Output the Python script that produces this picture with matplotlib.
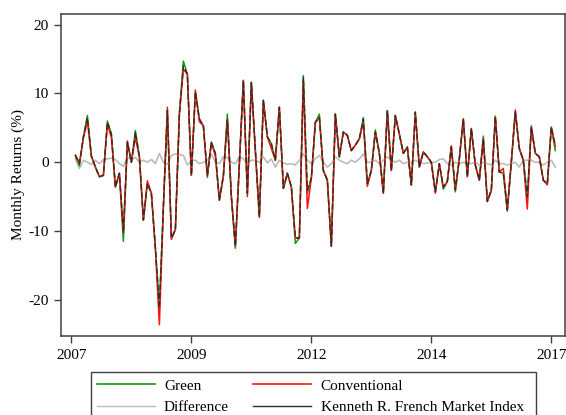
import matplotlib
matplotlib.use("Agg")
import matplotlib.pyplot as plt
from matplotlib.lines import Line2D
from matplotlib.patches import Rectangle
import numpy as np

plt.rcParams['font.family'] = ['Liberation Serif', 'DejaVu Serif']

# month index (0 = 2007m1); data run 2007m2 .. 2017m2
month = list(range(1, 122))

market = [1.0, -0.2, 3.7, 6.5, 0.9, -0.7, -2.1, -1.9, 5.8, 4.1,
          -3.6, -1.6, -10.3, 2.9, 0.0, 4.4, 0.8, -8.4, -3.1, -4.5,
          -12.5, -21.2, -6.5, 7.5, -11.0, -9.8, 7.0, 14.0, 12.8, -1.9,
          10.2, 6.3, 5.3, -1.9, 2.9, 1.3, -5.5, -2.0, 6.1, -5.0,
          -12.2, -0.2, 11.9, -4.5, 11.6, 1.7, -7.9, 9.0, 3.7, 2.7,
          0.3, 8.0, -3.8, -1.6, -3.6, -11.0, -11.0, 12.3, -4.0, -2.3,
          5.8, 6.5, -1.2, -2.6, -12.2, 7.0, 0.8, 4.4, 3.9, 1.7,
          2.5, 3.4, 6.3, -3.1, -1.2, 4.4, 1.3, -4.5, 7.5, -1.2,
          6.8, 4.1, 1.3, 2.2, -3.3, 7.3, -0.7, 1.5, 0.8, 0.0,
          -4.3, -0.2, -3.6, -2.8, 2.2, -4.0, 0.5, 6.3, -2.1, 4.9,
          -0.4, -2.6, 3.4, -5.7, -4.0, 6.6, -1.4, -1.6, -6.9, 0.0,
          7.3, 2.0, 0.3, -5.0, 5.1, 1.3, 0.8, -2.6, -3.1, 5.1,
          2.5]

green = [1.0, -0.5, 3.7, 6.8, 0.9, -0.7, -2.1, -1.9, 6.0, 4.1,
         -3.6, -1.6, -11.5, 2.9, 0.0, 4.6, 0.8, -8.4, -3.1, -4.5,
         -12.5, -20.8, -6.5, 7.5, -11.0, -9.8, 7.0, 14.7, 12.8, -1.9,
         10.2, 6.3, 5.3, -2.2, 2.9, 1.3, -5.5, -2.0, 7.0, -5.0,
         -12.5, -0.2, 11.9, -4.5, 11.6, 1.7, -7.9, 9.0, 3.7, 2.7,
         0.3, 8.0, -3.8, -1.6, -3.6, -11.8, -11.0, 12.6, -4.5, -2.3,
         5.8, 7.0, -1.2, -2.6, -12.2, 7.0, 0.8, 4.4, 3.9, 1.7,
         2.5, 3.4, 6.5, -3.1, -1.2, 4.7, 1.3, -4.5, 7.5, -1.2,
         6.8, 4.1, 1.3, 2.2, -3.3, 7.3, -0.7, 1.5, 0.8, 0.0,
         -4.3, -0.2, -3.9, -2.8, 2.2, -4.3, 0.5, 6.3, -2.1, 4.9,
         -0.4, -2.6, 3.8, -5.7, -4.0, 6.7, -1.4, -1.6, -7.1, 0.0,
         7.3, 2.0, 0.3, -5.2, 5.3, 1.3, 0.8, -2.6, -3.1, 5.1,
         1.7]

conventional = [1.0, -0.1, 3.5, 6.0, 0.9, -0.7, -2.1, -1.9, 5.5, 3.6,
                -3.6, -1.6, -10.0, 3.1, 0.0, 3.6, 0.8, -8.4, -2.7, -4.5,
                -12.5, -23.6, -6.5, 8.0, -11.2, -9.8, 7.0, 13.5, 12.8, -1.9,
                10.5, 5.9, 5.3, -1.9, 2.9, 0.9, -5.5, -2.0, 6.3, -5.0,
                -12.2, -0.2, 11.9, -5.0, 11.6, 1.7, -8.0, 9.0, 3.7, 2.0,
                0.3, 8.0, -3.8, -1.6, -3.6, -11.0, -11.0, 11.8, -6.7, -2.3,
                5.8, 6.5, -1.2, -2.6, -12.2, 7.0, 0.8, 4.4, 3.9, 1.7,
                2.5, 3.4, 5.8, -3.5, -1.2, 4.4, 1.3, -4.5, 7.5, -1.2,
                6.8, 4.1, 1.3, 2.2, -3.3, 7.0, -0.7, 1.5, 0.8, 0.0,
                -4.5, -0.2, -3.6, -2.8, 2.4, -4.0, 0.5, 6.3, -2.1, 4.9,
                -0.4, -2.6, 3.4, -5.7, -4.2, 6.6, -1.4, -0.9, -6.9, 0.0,
                7.6, 2.0, 0.3, -6.8, 5.1, 1.3, 0.8, -2.6, -3.3, 5.1,
                2.3]

difference = [0.5, -0.9, 0.3, 0.0, -0.3, 0.3, -0.2, 0.4, 0.5, 0.6,
              0.4, -0.2, -0.6, 0.7, 0.4, 0.7, 0.0, 0.3, 0.0, 0.4,
              -0.2, 1.3, 0.0, -0.3, 1.0, 1.2, 1.1, 1.0, -0.4, 0.3,
              0.3, -0.2, 0.0, 0.3, 1.2, 0.0, -0.2, 0.8, 0.7, 0.0,
              -0.2, 0.8, 0.5, -0.2, 0.3, 0.3, 0.0, 0.8, -0.1, 0.5,
              -0.7, 0.3, -0.1, -0.3, -0.2, -0.4, 0.3, 1.2, 0.3, -0.2,
              0.5, 1.0,
              0.0, -0.7, -0.2, 0.8, 0.3, 0.0, -0.2, 0.3, 0.0, 0.5,
              1.2, 0.0, 0.0, 0.3, -0.2, 0.3, 0.8, 0.3, 0.0, 0.3,
              -0.2, 0.0, 0.0, 0.3, 0.0, -0.2, -0.1, 0.0, 0.0, 0.4,
              0.5,
              -0.2, -0.4, 0.0, -0.2, 0.0, -0.2, -0.2, 0.0, -0.4, 0.0,
              -0.2, -0.4, 0.3, -0.2, -0.2, -0.4, -0.2, 0.0, -0.7, 0.3,
              0.3, 0.3, 0.0, 0.0, -0.4, 0.0, 0.3, -0.7]

tick_pos = [0, 30, 60, 90, 120]
tick_labels = ['2007', '2009', '2012', '2014', '2017']
ytick_vals = [-20, -10, 0, 10, 20]

GREEN = '#109a10'
RED = '#ff1010'
GRAY = '#bcbcbc'
DARK = '#2e2e2e'
SPINE = '#404040'

W, H = 566, 415
fig = plt.figure(figsize=(W / 100, H / 100), dpi=100)
ax = fig.add_axes([61/W, 1 - 336/H, (564.5 - 61)/W, (336 - 14)/H])

ax.plot(month, difference, color=GRAY, lw=1.2, zorder=2)
ax.plot(month, green, color=GREEN, lw=1.1, zorder=3)
ax.plot(month, conventional, color=RED, lw=1.1, zorder=4)
ax.plot(month, market, color=DARK, lw=1.0, dashes=(4, 2), zorder=5)

ax.set_xlim(-2.6, 123.3)
ax.set_ylim(-25.25, 21.55)
ax.set_xticks(tick_pos)
ax.set_xticklabels(tick_labels)
ax.set_yticks(ytick_vals)
ax.set_yticklabels([str(v) for v in ytick_vals])
ax.tick_params(direction='out', length=5, width=1.0, color=SPINE,
               labelsize=11, pad=4)
for s in ax.spines.values():
    s.set_color(SPINE)
    s.set_linewidth(1.1)
ax.set_ylabel('Monthly Returns (%)', fontsize=11, labelpad=2)

handles = [Line2D([], [], color=GREEN, lw=1.2),
           Line2D([], [], color=GRAY, lw=1.0),
           Line2D([], [], color=RED, lw=1.2),
           Line2D([], [], color=DARK, lw=1.0)]
labels = ['Green', 'Difference', 'Conventional',
          'Kenneth R. French Market Index']
leg = fig.legend(handles, labels, ncol=2, loc='upper left',
                 bbox_to_anchor=(96.7/W, 1 - 379/H),
                 fontsize=11, frameon=False,
                 handlelength=3.8, handletextpad=0.6, columnspacing=1.6,
                 labelspacing=0.52, borderpad=0.0, borderaxespad=0)

# legend frame (extends past the bottom edge, as in the reference)
frame = Rectangle((90.7/W, -20/H), (536 - 90.7)/W, (415 + 20 - 371.7)/H,
                  transform=fig.transFigure, fill=False,
                  edgecolor=SPINE, linewidth=1.0, zorder=1)
fig.add_artist(frame)

fig.savefig('out.png', dpi=100)
